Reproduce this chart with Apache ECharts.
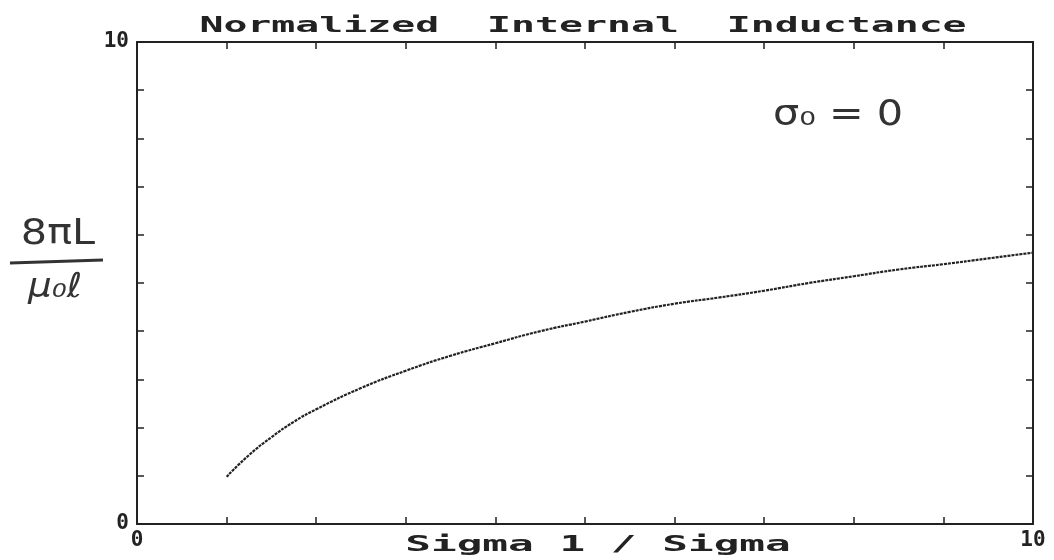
<!DOCTYPE html>
<html>
<head>
<meta charset="utf-8">
<script src="https://cdn.jsdelivr.net/npm/echarts@6/dist/echarts.min.js"></script>
<style>
  html, body { margin: 0; padding: 0; background: #fff; }
  #chart { width: 1054px; height: 560px; }
</style>
</head>
<body>
<div id="chart"></div>
<script>
// values
const sigmaRatio = [1, 1.25, 1.5, 1.75, 2, 2.5, 3, 3.5, 4, 4.5, 5, 5.5, 6, 6.5, 7, 7.5, 8, 8.5, 9, 9.5, 10];
const inductance = [0.98, 1.43, 1.8, 2.12, 2.38, 2.82, 3.18, 3.49, 3.75, 4.0, 4.2, 4.4, 4.57, 4.7, 4.84, 5.0, 5.14, 5.28, 5.39, 5.51, 5.63];
const shownTicks = [0, 10];

const titleText = 'Normalized  Internal  Inductance';
const xName = 'Sigma 1 / Sigma';

const pixelFont = 'DejaVu Sans Mono';
const ink = '#222';

let chart = echarts.init(document.getElementById('chart'));

const tickLabel = {
  fontFamily: pixelFont,
  fontWeight: 'bold',
  fontSize: 21,
  color: ink
};

function axisBase(extra) {
  return Object.assign({
    type: 'value',
    min: 0,
    max: 10,
    interval: 1,
    splitLine: { show: false },
    axisLine: { show: true, onZero: false, lineStyle: { color: ink, width: 2 } },
    axisTick: { show: true, inside: true, length: 7, lineStyle: { color: ink, width: 1.5 } }
  }, extra);
}

const onlyEnds = v => (shownTicks.indexOf(v) >= 0 ? String(v) : '');

let option = {
  animation: false,
  backgroundColor: '#fff',
  grid: { left: 137, right: 21, top: 42, bottom: 36 },
  xAxis: [
    axisBase({
      position: 'bottom',
      axisLabel: Object.assign({ formatter: onlyEnds, margin: 6 }, tickLabel)
    }),
    axisBase({ position: 'top', axisLabel: { show: false } })
  ],
  yAxis: [
    axisBase({
      position: 'left',
      axisLabel: Object.assign({ formatter: onlyEnds, margin: 8 }, tickLabel)
    }),
    axisBase({ position: 'right', axisLabel: { show: false } })
  ],
  series: [{
    type: 'line',
    data: sigmaRatio.map((x, i) => [x, inductance[i]]),
    smooth: true,
    showSymbol: false,
    lineStyle: { color: ink, width: 2.2, type: [3, 1] }
  }],
  graphic: [
    {
      type: 'text',
      x: 583, y: 26, scaleX: 1.81, scaleY: 1,
      style: {
        text: titleText, font: 'bold 22px "DejaVu Sans Mono"', fill: ink,
        align: 'center', verticalAlign: 'middle'
      }
    },
    {
      type: 'text',
      x: 598, y: 545, scaleX: 1.94, scaleY: 1,
      style: {
        text: xName, font: 'bold 22px "DejaVu Sans Mono"', fill: ink,
        align: 'center', verticalAlign: 'middle'
      }
    },
    {
      type: 'text',
      x: 58, y: 235, scaleX: 1.15, scaleY: 1,
      style: {
        text: '8πL', font: '36px "DejaVu Sans"', fill: '#333',
        align: 'center', verticalAlign: 'middle'
      }
    },
    {
      type: 'line',
      shape: { x1: 10, y1: 263, x2: 103, y2: 260 },
      style: { stroke: '#333', lineWidth: 3 }
    },
    {
      type: 'text',
      x: 55, y: 288, scaleX: 1.1, scaleY: 1,
      style: {
        text: 'μ₀ℓ', font: 'italic 34px "DejaVu Sans"', fill: '#333',
        align: 'center', verticalAlign: 'middle'
      }
    },
    {
      type: 'text',
      x: 773, y: 116, scaleX: 1.15, scaleY: 1,
      style: {
        text: 'σ₀ = 0', font: '36px "DejaVu Sans"', fill: '#333',
        align: 'left', verticalAlign: 'middle'
      }
    }
  ]
};

chart.setOption(option);
</script>
</body>
</html>
